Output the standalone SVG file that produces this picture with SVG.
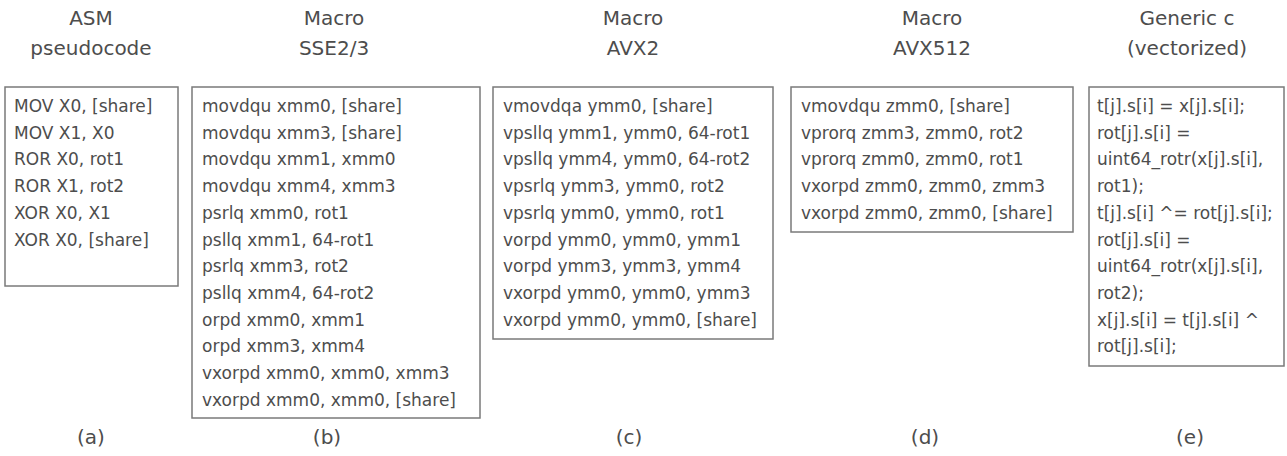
<svg xmlns="http://www.w3.org/2000/svg" width="1287" height="456" viewBox="0 0 1287 456">
<style>
text{font-family:"DejaVu Sans","Liberation Sans",sans-serif;fill:#4d4d4d}
.t{font-size:20px;text-anchor:middle}
.c{font-size:17px}
.box{fill:#fff;stroke:#7a7a7a;stroke-width:1.5}
</style>
<rect width="1287" height="456" fill="#fff"/>
<g id="node-a">
<text class="t" x="91" y="25">ASM</text>
<text class="t" x="91" y="55">pseudocode</text>
<rect class="box" x="5" y="87" width="173" height="199"/>
<text class="c"><tspan x="14" y="112">MOV X0, [share]</tspan><tspan x="14" dy="26.7">MOV X1, X0</tspan><tspan x="14" dy="26.7">ROR X0, rot1</tspan><tspan x="14" dy="26.7">ROR X1, rot2</tspan><tspan x="14" dy="26.7">XOR X0, X1</tspan><tspan x="14" dy="26.7">XOR X0, [share]</tspan></text>
<text class="t" x="91" y="444">(a)</text>
</g>
<g id="node-b">
<text class="t" x="334" y="25">Macro</text>
<text class="t" x="334" y="55">SSE2/3</text>
<rect class="box" x="192" y="87" width="288" height="331"/>
<text class="c"><tspan x="202" y="112">movdqu xmm0, [share]</tspan><tspan x="202" dy="26.7">movdqu xmm3, [share]</tspan><tspan x="202" dy="26.7">movdqu xmm1, xmm0</tspan><tspan x="202" dy="26.7">movdqu xmm4, xmm3</tspan><tspan x="202" dy="26.7">psrlq xmm0, rot1</tspan><tspan x="202" dy="26.7">psllq xmm1, 64-rot1</tspan><tspan x="202" dy="26.7">psrlq xmm3, rot2</tspan><tspan x="202" dy="26.7">psllq xmm4, 64-rot2</tspan><tspan x="202" dy="26.7">orpd xmm0, xmm1</tspan><tspan x="202" dy="26.7">orpd xmm3, xmm4</tspan><tspan x="202" dy="26.7">vxorpd xmm0, xmm0, xmm3</tspan><tspan x="202" dy="26.7">vxorpd xmm0, xmm0, [share]</tspan></text>
<text class="t" x="327" y="444">(b)</text>
</g>
<g id="node-c">
<text class="t" x="633" y="25">Macro</text>
<text class="t" x="633" y="55">AVX2</text>
<rect class="box" x="493" y="87" width="280" height="252"/>
<text class="c"><tspan x="503" y="112">vmovdqa ymm0, [share]</tspan><tspan x="503" dy="26.7">vpsllq ymm1, ymm0, 64-rot1</tspan><tspan x="503" dy="26.7">vpsllq ymm4, ymm0, 64-rot2</tspan><tspan x="503" dy="26.7">vpsrlq ymm3, ymm0, rot2</tspan><tspan x="503" dy="26.7">vpsrlq ymm0, ymm0, rot1</tspan><tspan x="503" dy="26.7">vorpd ymm0, ymm0, ymm1</tspan><tspan x="503" dy="26.7">vorpd ymm3, ymm3, ymm4</tspan><tspan x="503" dy="26.7">vxorpd ymm0, ymm0, ymm3</tspan><tspan x="503" dy="26.7">vxorpd ymm0, ymm0, [share]</tspan></text>
<text class="t" x="629" y="444">(c)</text>
</g>
<g id="node-d">
<text class="t" x="932" y="25">Macro</text>
<text class="t" x="932" y="55">AVX512</text>
<rect class="box" x="791" y="87" width="282" height="145"/>
<text class="c"><tspan x="801" y="112">vmovdqu zmm0, [share]</tspan><tspan x="801" dy="26.7">vprorq zmm3, zmm0, rot2</tspan><tspan x="801" dy="26.7">vprorq zmm0, zmm0, rot1</tspan><tspan x="801" dy="26.7">vxorpd zmm0, zmm0, zmm3</tspan><tspan x="801" dy="26.7">vxorpd zmm0, zmm0, [share]</tspan></text>
<text class="t" x="925" y="444">(d)</text>
</g>
<g id="node-e">
<text class="t" x="1187" y="25">Generic c</text>
<text class="t" x="1187" y="55">(vectorized)</text>
<rect class="box" x="1089" y="87" width="195" height="279"/>
<text class="c"><tspan x="1097" y="112">t[j].s[i] = x[j].s[i];</tspan><tspan x="1097" dy="26.7">rot[j].s[i] =</tspan><tspan x="1097" dy="26.7">uint64_rotr(x[j].s[i],</tspan><tspan x="1097" dy="26.7">rot1);</tspan><tspan x="1097" dy="26.7">t[j].s[i] ^= rot[j].s[i];</tspan><tspan x="1097" dy="26.7">rot[j].s[i] =</tspan><tspan x="1097" dy="26.7">uint64_rotr(x[j].s[i],</tspan><tspan x="1097" dy="26.7">rot2);</tspan><tspan x="1097" dy="26.7">x[j].s[i] = t[j].s[i] ^</tspan><tspan x="1097" dy="26.7">rot[j].s[i];</tspan></text>
<text class="t" x="1190" y="444">(e)</text>
</g>
<g id="connectors"/>
</svg>
